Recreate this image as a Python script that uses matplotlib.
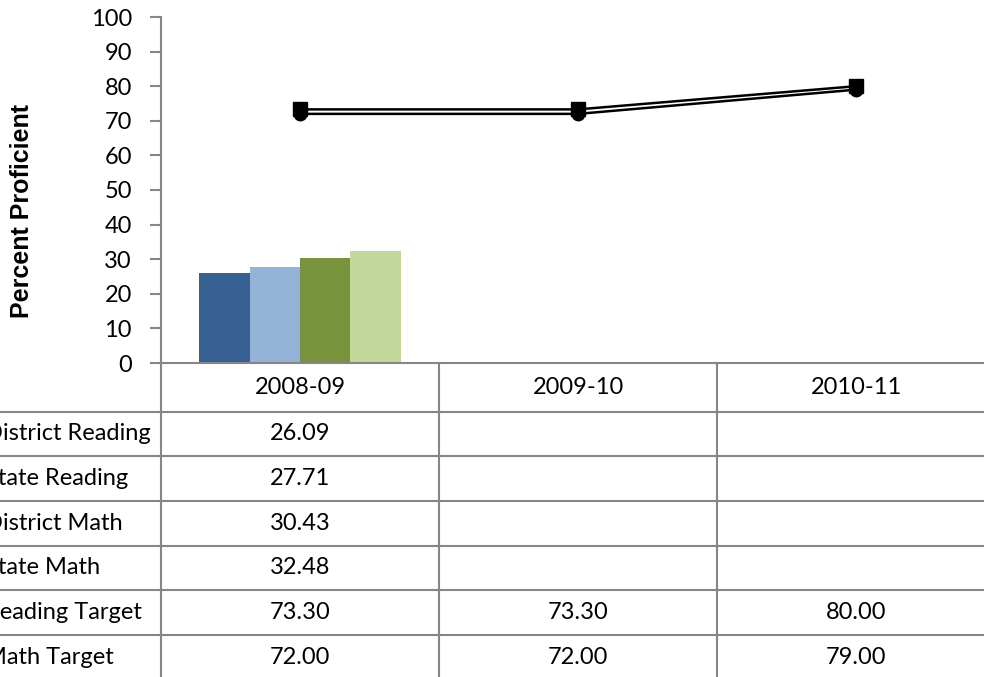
import matplotlib
matplotlib.use("Agg")
import matplotlib.pyplot as plt
from matplotlib.lines import Line2D
import matplotlib.transforms as mtransforms
import numpy as np

categories = ["2008-09", "2009-10", "2010-11"]
series_names = ["District Reading", "State Reading", "District Math", "State Math",
                "Reading Target", "Math Target"]
district_reading = [26.09, None, None]
state_reading = [27.71, None, None]
district_math = [30.43, None, None]
state_math = [32.48, None, None]
reading_target = [73.30, 73.30, 80.00]
math_target = [72.00, 72.00, 79.00]
bar_colors = ["#366092", "#95B3D7", "#77933C", "#C4D79B"]
yticks = [0, 10, 20, 30, 40, 50, 60, 70, 80, 90, 100]

W, H = 984, 677
fig = plt.figure(figsize=(W / 100, H / 100), dpi=100)
ax_l, ax_r, ax_t, ax_b = 161, 995, 17, 363
ax = fig.add_axes([ax_l / W, 1 - ax_b / H, (ax_r - ax_l) / W, (ax_b - ax_t) / H])

FONT = "Lato"
FS = 17
GRAY = "#868686"

x = np.arange(len(categories))
bar_series = [district_reading, state_reading, district_math, state_math]
bw = 0.181
for i, (vals, c) in enumerate(zip(bar_series, bar_colors)):
    xs = [xi for xi, v in zip(x, vals) if v is not None]
    vs = [v for v in vals if v is not None]
    ax.bar(np.array(xs) + (i - 1.5) * bw, vs, width=bw, color=c, zorder=2)

ax.plot(x, reading_target, color="black", lw=1.8, marker="s", ms=9.5, zorder=3)
ax.plot(x, math_target, color="black", lw=1.8, marker="o", ms=9, zorder=3)

ax.set_xlim(-0.5, len(categories) - 0.5)
ax.set_ylim(0, 100)
ax.set_yticks(yticks)
ax.set_yticklabels([str(t) for t in yticks], fontfamily=FONT, fontsize=FS)
ax.tick_params(axis="y", direction="out", length=8, width=1.5, color=GRAY, pad=13)
ax.set_xticks([])
for s in ["top", "right"]:
    ax.spines[s].set_visible(False)
for s in ["left", "bottom"]:
    ax.spines[s].set_color(GRAY)
    ax.spines[s].set_linewidth(1.5)

ax.set_ylabel("Percent Proficient", fontfamily="Liberation Sans", fontweight="bold", fontsize=18)
ax.yaxis.set_label_coords(-0.152, 0.44)

# ---- data table below the axes ----
def ay(ypx):
    return (ax_b - ypx) / (ax_b - ax_t)

row_bounds = [363, 412, 456, 501, 546, 590, 635, 680]
trans_dx = mtransforms.blended_transform_factory(ax.transData, ax.transAxes)
trans_fx = mtransforms.blended_transform_factory(fig.transFigure, ax.transAxes)

# vertical lines
for xb in np.arange(-0.5, len(categories), 1.0):
    ax.add_line(Line2D([xb, xb], [0, ay(row_bounds[-1])], transform=trans_dx,
                       color=GRAY, lw=1.5, clip_on=False))
# horizontal lines
for yb in row_bounds[1:]:
    ax.add_line(Line2D([0, ax_r / W], [ay(yb), ay(yb)], transform=trans_fx,
                       color=GRAY, lw=1.5, clip_on=False))

# header
hdr_y = ay((row_bounds[0] + row_bounds[1]) / 2)
for xi, c in zip(x, categories):
    ax.text(xi, hdr_y, c, transform=trans_dx, ha="center", va="center",
            fontfamily=FONT, fontsize=FS)

all_series = [district_reading, state_reading, district_math, state_math,
              reading_target, math_target]
for r, (name, vals) in enumerate(zip(series_names, all_series)):
    yc = ay((row_bounds[r + 1] + row_bounds[r + 2]) / 2)
    ax.text(-15 / W, yc, name, transform=trans_fx, ha="left", va="center",
            fontfamily=FONT, fontsize=FS)
    for xi, v in zip(x, vals):
        if v is not None:
            ax.text(xi, yc, f"{v:.2f}", transform=trans_dx, ha="center", va="center",
                    fontfamily=FONT, fontsize=FS)

fig.savefig("out.png", dpi=100)
